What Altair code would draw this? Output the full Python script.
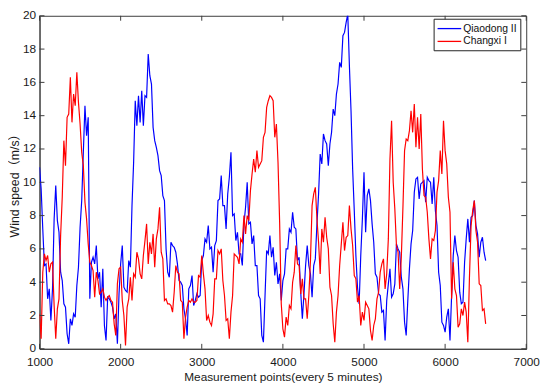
import altair as alt
import pandas as pd

points = list(range(1000, 6501, 20))

qiaodong = [
    10.9, 9.6, 7.2, 5.0, 5.1, 3.0, 3.6, 1.7, 3.6, 7.8,
    9.8, 7.7, 7.0, 4.6, 4.1, 2.7, 2.5, 0.9, 0.3, 1.8,
    1.4, 2.1, 1.9, 3.8, 4.9, 7.3, 8.9, 11.8, 14.6, 12.8,
    13.9, 3.0, 5.2, 5.5, 5.1, 6.2, 4.2, 4.6, 2.5, 4.8,
    1.4, 0.5, 3.1, 3.0, 2.8, 2.5, 1.8, 2.1, 0.3, 3.3,
    5.1, 6.2, 3.7, 3.5, 3.4, 5.3, 4.9, 8.6, 11.2, 14.9,
    13.4, 15.2, 13.6, 15.5, 13.4, 15.2, 15.1, 17.7, 16.4, 15.9,
    13.3, 12.5, 12.1, 11.6, 10.7, 10.4, 9.2, 8.9, 6.0, 4.6,
    4.3, 6.4, 6.2, 6.1, 5.8, 5.1, 4.1, 4.0, 3.8, 2.4,
    1.8, 0.8, 3.6, 3.8, 4.4, 2.6, 2.9, 3.3, 3.1, 3.2,
    5.3, 5.6, 6.6, 6.4, 7.4, 6.0, 6.1, 4.6, 6.2, 6.5,
    8.9, 9.0, 10.4, 8.6, 8.6, 7.2, 9.3, 10.3, 11.8, 8.0,
    8.1, 6.5, 7.0, 5.7, 5.7, 5.0, 7.5, 8.5, 10.0, 7.5,
    7.6, 6.3, 6.8, 5.0, 5.0, 3.2, 3.0, 0.8, 0.4, 3.2,
    5.9, 5.7, 6.8, 5.5, 6.1, 4.4, 5.2, 3.9, 4.5, 2.9,
    4.1, 4.5, 6.0, 6.0, 7.2, 7.0, 8.2, 7.3, 7.2, 5.3,
    5.5, 3.4, 1.8, 3.3, 5.0, 6.2, 5.0, 4.5, 3.1, 5.0,
    5.4, 7.5, 9.3, 11.7, 11.1, 12.9, 12.5, 12.3, 11.0, 12.3,
    13.0, 14.4, 14.0, 15.3, 15.9, 17.2, 16.9, 18.8, 19.0, 19.6,
    20.1, 17.0, 14.3, 10.8, 8.3, 5.6, 3.7, 2.7, 5.6, 7.8,
    10.6, 7.0, 9.2, 9.6, 8.9, 7.5, 6.4, 4.5, 4.3, 3.3,
    3.2, 2.2, 2.3, 0.5, 2.9, 3.9, 4.8, 3.1, 3.3, 3.9,
    6.3, 6.0, 5.8, 4.3, 3.6, 1.6, 0.8, 2.9, 4.8, 6.3,
    7.1, 9.4, 10.2, 10.3, 9.0, 9.9, 10.0, 10.1, 8.8, 10.3,
    10.1, 10.0, 8.7, 10.3, 8.3, 7.4, 4.6, 3.8, 1.6, 1.4,
    1.0, 1.9, 2.4, 0.5, 3.2, 5.6, 6.8, 5.9, 5.5, 3.4,
    2.7, 2.8, 5.2, 6.6, 7.8, 6.4, 7.9, 8.0, 8.9, 7.4,
    6.9, 5.5, 6.4, 6.7, 5.8, 5.3,
]

changxi = [
    2.1, 0.6, 4.6, 5.7, 5.3, 5.6, 4.6, 5.1, 5.2, 2.6,
    0.6, 2.4, 3.0, 6.8, 9.1, 12.5, 11.0, 13.9, 14.1, 16.3,
    13.6, 15.3, 14.6, 16.6, 14.8, 13.5, 11.8, 11.0, 8.8, 7.8,
    6.3, 5.2, 5.0, 4.7, 3.1, 4.6, 4.1, 3.3, 3.4, 3.6,
    3.1, 2.9, 3.1, 3.2, 2.9, 2.8, 1.5, 0.8, 3.9, 4.8,
    4.9, 2.9, 2.0, 0.2, 2.5, 3.0, 4.3, 2.9, 4.5, 4.3,
    5.8, 5.4, 4.5, 4.2, 5.6, 6.5, 7.5, 5.1, 6.4, 5.7,
    6.9, 4.9, 6.6, 7.2, 8.5, 5.8, 5.4, 2.9, 3.0, 2.7,
    2.7, 2.6, 2.2, 3.4, 5.0, 4.6, 4.5, 2.9, 2.8, 0.6,
    1.9, 2.5, 2.9, 2.8, 3.0, 2.8, 2.8, 2.9, 4.4, 4.3,
    5.6, 4.5, 3.6, 1.7, 2.0, 1.6, 1.4, 2.1, 4.2, 4.2,
    5.9, 5.7, 6.0, 4.1, 3.2, 1.7, 1.8, 0.6, 2.2, 3.2,
    5.7, 5.6, 5.5, 5.1, 6.6, 6.4, 8.0, 6.9, 8.0, 7.7,
    9.5, 10.5, 11.4, 10.6, 11.9, 10.9, 11.1, 11.3, 12.7, 13.0,
    14.5, 14.9, 15.2, 15.1, 14.9, 12.7, 13.5, 11.2, 7.6, 2.7,
    1.2, 0.7, 1.9, 1.4, 2.6, 2.4, 4.0, 4.6, 6.2, 5.1,
    5.0, 3.3, 4.2, 3.0, 3.0, 1.8, 3.2, 5.3, 8.6, 9.3,
    9.7, 7.8, 6.4, 4.5, 7.2, 6.4, 7.9, 6.7, 6.0, 3.7,
    3.2, 1.5, 0.4, 2.2, 3.2, 5.0, 6.3, 7.6, 5.9, 6.7,
    6.8, 8.6, 7.2, 6.2, 4.4, 4.2, 2.8, 3.2, 1.4, 2.2,
    1.7, 2.8, 2.6, 2.4, 1.1, 0.5, 1.4, 1.8, 3.0, 3.4,
    4.6, 5.1, 5.4, 3.6, 4.5, 6.6, 11.4, 13.7, 10.0, 8.4,
    6.2, 5.8, 3.6, 5.5, 8.5, 11.9, 12.6, 12.5, 13.1, 14.3,
    13.0, 14.7, 12.1, 13.9, 12.0, 14.1, 10.8, 9.2, 9.1, 8.2,
    6.6, 5.4, 6.6, 6.5, 7.1, 9.4, 10.1, 11.9, 10.5, 13.7,
    11.9, 11.1, 9.1, 8.2, 3.0, 5.2, 3.6, 3.2, 1.3, 1.5,
    2.4, 2.0, 2.8, 2.2, 0.4, 4.3, 7.4, 8.3, 8.9, 7.1,
    6.4, 3.9, 3.8, 2.3, 2.4, 1.5,
]

series_names = ["Qiaodong II", "Changxi I"]
series_colors = ["#0000ff", "#ff0000"]
x_ticks = [1000, 2000, 3000, 4000, 5000, 6000, 7000]
y_ticks = [0, 2, 4, 6, 8, 10, 12, 14, 16, 18, 20]

df_q = pd.DataFrame({"point": points, "speed": qiaodong, "site": series_names[0]})
df_c = pd.DataFrame({"point": points, "speed": changxi, "site": series_names[1]})

W, H = 494, 338
FONT = "Liberation Sans, Arial, Noto Sans CJK SC"
AX = "#3c3c3c"

xscale = alt.Scale(domain=[1000, 7000], nice=False, zero=False)
yscale = alt.Scale(domain=[0, 20], nice=False)
cscale = alt.Scale(domain=series_names, range=series_colors)

x_axis = alt.Axis(values=x_ticks, ticks=False, grid=False, labelPadding=8,
                  labelFlush=False, labelOverlap=False,
                  title="Measurement points(every 5 minutes)", titlePadding=4,
                  labelFontSize=12, titleFontSize=12, format="d")
y_axis = alt.Axis(values=y_ticks, ticks=False, grid=False, labelPadding=4,
                  labelFlush=False, labelOverlap=False, labelOffset=-1,
                  title="Wind speed（m/s）", titlePadding=1,
                  labelFontSize=12, titleFontSize=12.5)
legend = alt.Legend(title=None, orient="none", legendX=400, legendY=3,
                    symbolType="M-1,0H3", symbolSize=144,
                    symbolStrokeWidth=1.3, labelFontSize=10.5,
                    labelOffset=13, rowPadding=0, padding=3,
                    strokeColor="#222222", fillColor="white")

line_q = alt.Chart(df_q).mark_line(strokeWidth=1.2, clip=True).encode(
    x=alt.X("point:Q", scale=xscale, axis=x_axis),
    y=alt.Y("speed:Q", scale=yscale, axis=y_axis),
    color=alt.Color("site:N", scale=cscale, legend=legend),
)
line_c = alt.Chart(df_c).mark_line(strokeWidth=1.2, clip=True).encode(
    x=alt.X("point:Q", scale=xscale, axis=x_axis),
    y=alt.Y("speed:Q", scale=yscale, axis=y_axis),
    color=alt.Color("site:N", scale=cscale, legend=legend),
)

xt = pd.DataFrame({"point": x_ticks})
yt = pd.DataFrame({"speed": y_ticks})

tb = alt.Chart(xt).mark_rule(color=AX, strokeWidth=1).encode(
    x=alt.X("point:Q", scale=xscale, axis=x_axis), y=alt.value(H), y2=alt.value(H - 5))
tt = alt.Chart(xt).mark_rule(color=AX, strokeWidth=1).encode(
    x=alt.X("point:Q", scale=xscale, axis=x_axis), y=alt.value(0), y2=alt.value(5))
tl = alt.Chart(yt).mark_rule(color=AX, strokeWidth=1).encode(
    y=alt.Y("speed:Q", scale=yscale, axis=y_axis), x=alt.value(0), x2=alt.value(5))
tr = alt.Chart(yt).mark_rule(color=AX, strokeWidth=1).encode(
    y=alt.Y("speed:Q", scale=yscale, axis=y_axis), x=alt.value(W), x2=alt.value(W - 5))

chart = alt.layer(line_q, line_c, tb, tt, tl, tr).properties(
    width=W, height=H,
    autosize=alt.AutoSizeParams(type="none"),
    padding={"left": 32, "top": 5, "right": 16, "bottom": 44},
).configure_view(stroke=AX, strokeWidth=1).configure_axis(
    domainColor=AX, labelColor="#1a1a1a", titleColor="#1a1a1a",
    labelFont=FONT, titleFont=FONT, titleFontWeight="normal",
).configure_legend(labelFont=FONT, labelColor="#111111")

chart.save("out.html", embed_options={"renderer": "svg", "actions": False})
